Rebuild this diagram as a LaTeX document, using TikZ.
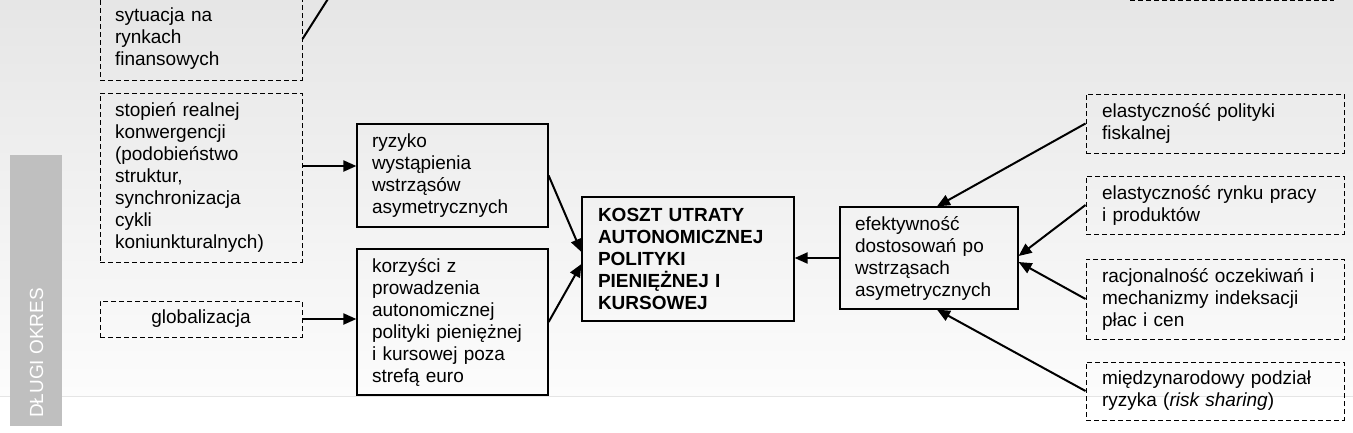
\documentclass[tikz,border=0pt]{standalone}
\usepackage{fontspec}
\setmainfont{Liberation Sans}
\usetikzlibrary{arrows.meta}
\newcommand\fsz{\fontsize{19}{22}\selectfont}
\definecolor{bgtop}{HTML}{E6E6E6}
\definecolor{bgbot}{HTML}{FCFCFC}
\definecolor{barcol}{HTML}{BFBFBF}
\tikzset{
  x=1pt, y=-1pt,
  boxbase/.style={align=left, font=\fsz, inner ysep=0pt, anchor=center},
  dbox/.style={boxbase, draw, line width=1pt, dash pattern=on 5pt off 3pt},
  sbox/.style={boxbase, draw, line width=1.2pt},
  arr/.style={line width=2pt, -{Triangle[length=13pt,width=11pt]}},
  plain/.style={line width=2pt},
}
\begin{document}
\begin{tikzpicture}
\useasboundingbox (0,0) rectangle (1353,432);
\clip (0,0) rectangle (1353,432);
% background
\shade[top color=bgtop, bottom color=bgbot] (0,0) rectangle (1353,396);
\fill[white] (0,396) rectangle (1353,432);
\draw[color=black!10, line width=1pt] (0,396) -- (1353,396);
% left bar
\fill[barcol] (10,155) rectangle (62,426);
\node[rotate=90, anchor=west, text=white, font=\fsz, inner sep=0pt] (okres) at (36.5,418) {DŁUGI OKRES};

% left dashed boxes
\node[dbox, inner xsep=15pt, text width=172pt, minimum height=82pt] (sit) at (201,39)
  {sytuacja na\\rynkach\\finansowych};
\node[dbox, inner xsep=15pt, text width=172pt, minimum height=169pt] (stop) at (201,177.5)
  {stopień realnej\\konwergencji\\(podobieństwo\\struktur,\\synchronizacja\\cykli\\koniunkturalnych)};
\node[dbox, align=center, inner xsep=15pt, text width=172pt, minimum height=36pt] (glob) at (201,319)
  {globalizacja};

% middle boxes
\node[sbox, inner xsep=15pt, text width=161pt, minimum height=103pt] (ryz) at (452.5,175.5)
  {ryzyko\\wystąpienia\\wstrząsów\\asymetrycznych};
\node[sbox, inner xsep=15pt, text width=161pt, minimum height=146pt] (korz) at (452.5,322)
  {korzyści z\\prowadzenia\\autonomicznej\\polityki pieniężnej\\i kursowej poza\\strefą euro};
\node[sbox, font=\fsz\bfseries, inner xsep=16pt, text width=180pt, minimum height=124pt] (koszt) at (688,259)
  {KOSZT UTRATY\\AUTONOMICZNEJ\\POLITYKI\\PIENIĘŻNEJ I\\KURSOWEJ};
\node[sbox, inner xsep=15pt, text width=148pt, minimum height=102pt] (efek) at (929,258)
  {efektywność\\dostosowań po\\wstrząsach\\asymetrycznych};

% right dashed boxes
\node[dbox, inner xsep=16pt, text width=226pt, minimum height=59pt] (ep) at (1215,123.5)
  {elastyczność polityki\\fiskalnej};
\node[dbox, inner xsep=16pt, text width=226pt, minimum height=58pt] (er) at (1215,205)
  {elastyczność rynku pracy\\i produktów};
\node[dbox, inner xsep=16pt, text width=226pt, minimum height=80pt] (rac) at (1215,299)
  {racjonalność oczekiwań i\\mechanizmy indeksacji\\płac i cen};
\node[dbox, inner xsep=16pt, text width=226pt, minimum height=58pt] (mie) at (1215,391)
  {międzynarodowy podział\\ryzyka (\textit{risk sharing})};
\node[dbox, minimum width=203pt, minimum height=42pt, inner sep=0pt] (topr) at (1231.5,-21) {};

% connectors
\coordinate (situp) at (340,-20);
\draw[plain] (sit.east) -- (situp);
\draw[arr] ([yshift=11.5pt]stop.east) -- ([yshift=11.5pt]stop.east -| ryz.west);
\draw[arr] (glob.east) -- (glob.east -| korz.west);
\draw[arr] (ryz.east) -- ([yshift=7pt]koszt.west);
\draw[arr] (korz.east) -- ([yshift=-5pt]koszt.west);
\draw[arr] (efek.west) -- (efek.west -| koszt.east);
\draw[arr] (ep.west) -- ([xshift=8pt]efek.north);
\draw[arr] (er.west) -- ([yshift=2pt]efek.east);
\draw[arr] (rac.west) -- ([yshift=-4pt]efek.east);
\draw[arr] (mie.west) -- ([xshift=8pt]efek.south);
\end{tikzpicture}
\end{document}
